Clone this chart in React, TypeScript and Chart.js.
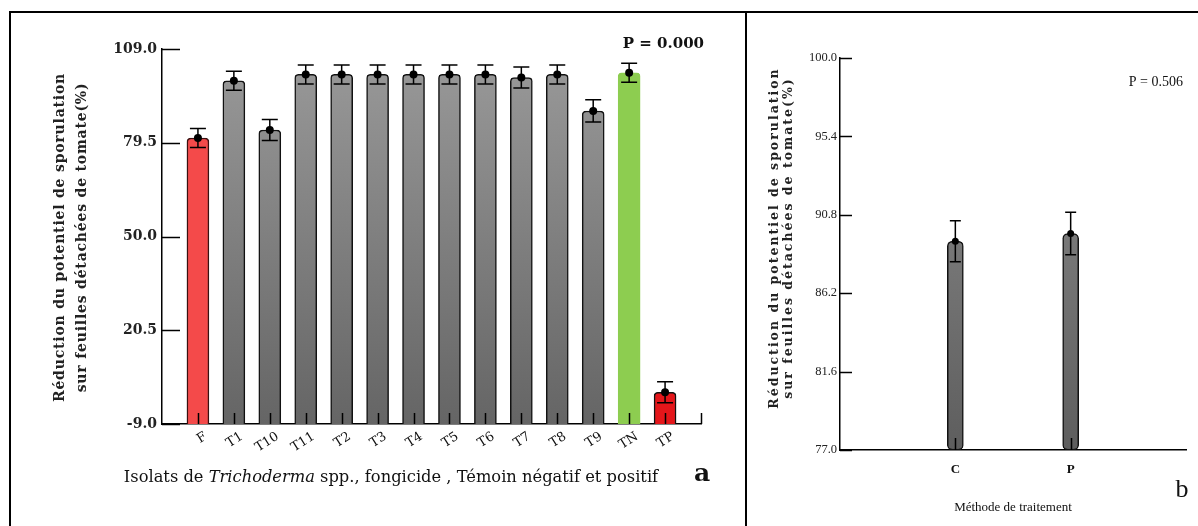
import React, { useEffect, useRef } from 'react';
import { Chart, registerables } from 'chart.js';
Chart.register(...registerables);

// ---------- data: panel a ----------
const isolates = ['F', 'T1', 'T10', 'T11', 'T2', 'T3', 'T4', 'T5', 'T6', 'T7', 'T8', 'T9', 'TN', 'TP'];
const reductionA = [81, 99, 83.5, 101, 101, 101, 101, 101, 101, 100, 101, 89.5, 101.5, 1];
const errorA = [3, 3, 3.3, 3, 3, 3, 3, 3, 3, 3.3, 3, 3.5, 3, 3.3];
const yTicksA = [-9.0, 20.5, 50.0, 79.5, 109.0];
const pValueA = 'P = 0.000';

// ---------- data: panel b ----------
const methods = ['C', 'P'];
const reductionB = [89.25, 89.7];
const errorB = [1.2, 1.25];
const yTicksB = [77.0, 81.6, 86.2, 90.8, 95.4, 100.0];
const pValueB = 'P = 0.506';

const yTitle = ['Réduction du potentiel de sporulation', 'sur feuilles détachées de tomate(%)'];
const xTitleA = ['Isolats de ', 'Trichoderma', ' spp., fongicide , Témoin négatif et positif'];
const xTitleB = 'Méthode de traitement';

// ---------- styles ----------
const barKindA = ['red', 'gray', 'gray', 'gray', 'gray', 'gray', 'gray', 'gray', 'gray', 'gray', 'gray', 'gray', 'green', 'tp'];
const SERIF = '"DejaVu Serif", serif';
const LSERIF = '"Liberation Serif", serif';

function grayGradient(chart: any, top: string, bottom: string) {
  const { ctx, chartArea } = chart;
  if (!chartArea) return top;
  const g = ctx.createLinearGradient(0, chartArea.top, 0, chartArea.bottom);
  g.addColorStop(0, top);
  g.addColorStop(1, bottom);
  return g;
}

function padLabels(arr: string[]) {
  return ['', ...arr, ''];
}
function padData(arr: number[]) {
  return [null, ...arr, null];
}

function decorPlugin(o: any) {
  return {
    id: 'decor' + o.name,
    afterDatasetsDraw(chart: any) {
      const { ctx, chartArea, scales } = chart;
      const x = scales.x;
      const y = scales.y;
      ctx.save();
      ctx.strokeStyle = '#000';
      ctx.lineWidth = 1.5;
      // inward x ticks
      o.xTickIdx.forEach((i: number) => {
        const px = Math.round(x.getPixelForValue(i)) + 0.5;
        ctx.beginPath();
        ctx.moveTo(px, chartArea.bottom);
        ctx.lineTo(px, chartArea.bottom - o.xTickLen);
        ctx.stroke();
      });
      // inward y ticks
      y.ticks.forEach((t: any) => {
        const py = Math.round(y.getPixelForValue(t.value)) + 0.5;
        ctx.beginPath();
        ctx.moveTo(chartArea.left, py);
        ctx.lineTo(chartArea.left + o.yTickLen, py);
        ctx.stroke();
      });
      // error bars
      o.values.forEach((v: number, i: number) => {
        const px = x.getPixelForValue(i + 1);
        const t = y.getPixelForValue(v + o.errors[i]);
        const b = y.getPixelForValue(v - o.errors[i]);
        ctx.beginPath();
        ctx.moveTo(px, t);
        ctx.lineTo(px, b);
        ctx.moveTo(px - o.cap / 2, t);
        ctx.lineTo(px + o.cap / 2, t);
        ctx.moveTo(px - o.cap / 2, b);
        ctx.lineTo(px + o.cap / 2, b);
        ctx.stroke();
      });
      // P value
      ctx.fillStyle = '#111';
      ctx.font = o.pFont;
      ctx.textAlign = 'right';
      ctx.textBaseline = 'middle';
      ctx.fillText(o.pText, chartArea.right + o.pDx, chartArea.top + o.pDy);
      // panel letter
      ctx.font = o.letterFont;
      ctx.textAlign = 'center';
      ctx.fillText(o.letter, chartArea.right + o.letterDx, chartArea.bottom + o.letterDy);
      // rotated y title (two lines, letter-spaced)
      ctx.save();
      ctx.fillStyle = '#222';
      ctx.font = o.yTitleFont;
      (ctx as any).letterSpacing = o.yTitleSpacing;
      const cy = (chartArea.top + chartArea.bottom) / 2 + o.yTitleDy;
      o.yTitleLines.forEach((line: string, i: number) => {
        ctx.save();
        ctx.translate(o.yTitleX + i * o.yTitleLh, cy);
        ctx.rotate(-Math.PI / 2);
        ctx.textAlign = 'center';
        ctx.textBaseline = 'middle';
        ctx.fillText(line, 0, 0);
        ctx.restore();
      });
      ctx.restore();
      // mixed x title
      if (o.xTitleParts) {
        const fonts = [o.xTitleFont, 'italic ' + o.xTitleFont, o.xTitleFont];
        const widths = o.xTitleParts.map((s: string, i: number) => {
          ctx.font = fonts[i];
          return ctx.measureText(s).width;
        });
        const total = widths.reduce((a: number, b: number) => a + b, 0);
        let cx = chartArea.left + o.xTitleCenterDx - total / 2;
        ctx.textAlign = 'left';
        ctx.fillStyle = '#111';
        o.xTitleParts.forEach((s: string, i: number) => {
          ctx.font = fonts[i];
          ctx.fillText(s, cx, chartArea.bottom + o.xTitleDy);
          cx += widths[i];
        });
      }
      ctx.restore();
    },
  };
}

function configA(): any {
  return {
    type: 'bar',
    data: {
      labels: padLabels(isolates),
      datasets: [
        {
          type: 'line',
          data: padData(reductionA),
          showLine: false,
          pointRadius: 4,
          pointBackgroundColor: '#000',
          pointBorderWidth: 0,
          order: 1,
        },
        {
          type: 'bar',
          data: padData(reductionA),
          base: yTicksA[0],
          barThickness: 22,
          borderRadius: 4,
          borderSkipped: 'start',
          backgroundColor: (c: any) => {
            const k = barKindA[c.dataIndex - 1];
            if (k === 'red') return '#f44a4a';
            if (k === 'green') return '#8dcd50';
            if (k === 'tp') return '#e4161a';
            return grayGradient(c.chart, '#9a9a9a', '#656565');
          },
          borderColor: (c: any) => {
            const k = barKindA[c.dataIndex - 1];
            if (k === 'green') return '#8dcd50';
            if (k === 'red') return '#3a1010';
            return '#111';
          },
          borderWidth: 1.5,
          order: 2,
        },
      ],
    },
    options: {
      responsive: false,
      animation: false,
      events: [],
      layout: { padding: { left: 0, right: 43, top: 36, bottom: 0 } },
      plugins: { legend: { display: false }, tooltip: { enabled: false } },
      scales: {
        x: {
          type: 'category',
          offset: false,
          grid: { display: false, drawTicks: false },
          border: { display: true, color: '#000', width: 1.5 },
          afterFit: (s: any) => { s.height = 102; },
          ticks: {
            autoSkip: false,
            minRotation: 32,
            maxRotation: 32,
            padding: 5,
            labelOffset: 8,
            color: '#111',
            font: { family: SERIF, size: 13 },
          },
        },
        y: {
          min: yTicksA[0],
          max: yTicksA[yTicksA.length - 1],
          afterBuildTicks: (s: any) => { s.ticks = yTicksA.map((v) => ({ value: v })); },
          afterFit: (s: any) => { s.width = 151; },
          grid: { display: false, drawTicks: false },
          border: { display: true, color: '#000', width: 1.5 },
          ticks: {
            padding: 5,
            color: '#222',
            font: { family: SERIF, size: 14, weight: 'bold' },
            callback: (v: any) => Number(v).toFixed(1),
          },
        },
      },
    },
    plugins: [
      decorPlugin({
        name: 'A',
        values: reductionA,
        errors: errorA,
        cap: 16,
        xTickIdx: isolates.map((_, i) => i + 1).concat([isolates.length + 1]),
        xTickLen: 11,
        yTickLen: 18,
        pText: pValueA,
        pFont: 'bold 15px ' + SERIF,
        pDx: 3,
        pDy: -5,
        letter: 'a',
        letterFont: 'bold 25px ' + SERIF,
        letterDx: 1,
        letterDy: 50,
        yTitleLines: yTitle,
        yTitleFont: 'bold 14px ' + SERIF,
        yTitleSpacing: '0.8px',
        yTitleX: 49,
        yTitleLh: 22,
        yTitleDy: 1,
        xTitleParts: xTitleA,
        xTitleFont: '16.3px ' + SERIF,
        xTitleCenterDx: 229,
        xTitleDy: 54,
      }),
    ],
  };
}

function configB(): any {
  return {
    type: 'bar',
    data: {
      labels: padLabels(methods),
      datasets: [
        {
          type: 'line',
          data: padData(reductionB),
          showLine: false,
          pointRadius: 3.5,
          pointBackgroundColor: '#000',
          pointBorderWidth: 0,
          order: 1,
        },
        {
          type: 'bar',
          data: padData(reductionB),
          base: yTicksB[0],
          barThickness: 16,
          borderRadius: 5,
          borderSkipped: false,
          backgroundColor: (c: any) => grayGradient(c.chart, '#8e8e8e', '#5e5e5e'),
          borderColor: '#111',
          borderWidth: 1.5,
          order: 2,
        },
      ],
    },
    options: {
      responsive: false,
      animation: false,
      events: [],
      layout: { padding: { left: 0, right: 8, top: 45, bottom: 0 } },
      plugins: { legend: { display: false }, tooltip: { enabled: false } },
      scales: {
        x: {
          type: 'category',
          offset: false,
          grid: { display: false, drawTicks: false },
          border: { display: true, color: '#000', width: 1.5 },
          afterFit: (s: any) => { s.height = 76; },
          ticks: {
            autoSkip: false,
            maxRotation: 0,
            padding: 12,
            color: '#111',
            font: { family: LSERIF, size: 13, weight: 'bold' },
          },
          title: {
            display: true,
            text: xTitleB,
            color: '#111',
            padding: { top: 0, bottom: 11 },
            font: { family: LSERIF, size: 13 },
          },
        },
        y: {
          min: yTicksB[0],
          max: yTicksB[yTicksB.length - 1],
          afterBuildTicks: (s: any) => { s.ticks = yTicksB.map((v) => ({ value: v })); },
          afterFit: (s: any) => { s.width = 93; },
          grid: { display: false, drawTicks: false },
          border: { display: true, color: '#000', width: 1.5 },
          ticks: {
            padding: 3,
            color: '#222',
            font: { family: LSERIF, size: 12.5 },
            callback: (v: any) => Number(v).toFixed(1),
          },
        },
      },
    },
    plugins: [
      decorPlugin({
        name: 'B',
        values: reductionB,
        errors: errorB,
        cap: 11,
        xTickIdx: methods.map((_, i) => i + 1),
        xTickLen: 12,
        yTickLen: 12,
        pText: pValueB,
        pFont: '14px ' + LSERIF,
        pDx: -3,
        pDy: 24,
        letter: 'b',
        letterFont: '26px ' + LSERIF,
        letterDx: -4,
        letterDy: 40,
        yTitleLines: yTitle,
        yTitleFont: 'bold 12.5px ' + SERIF,
        yTitleSpacing: '2px',
        yTitleX: 28,
        yTitleLh: 14,
        yTitleDy: -16,
        xTitleParts: null,
      }),
    ],
  };
}

function ChartCanvas({ make, left, top, width, height }: any) {
  const ref = useRef<HTMLCanvasElement>(null);
  useEffect(() => {
    const chart = new Chart(ref.current as HTMLCanvasElement, make());
    return () => chart.destroy();
  }, []);
  return (
    <canvas
      ref={ref}
      width={width}
      height={height}
      style={{ position: 'absolute', left, top, width, height }}
    />
  );
}

export default function App() {
  return (
    <div style={{ position: 'absolute', left: 0, top: 0, width: 1198, height: 526, background: '#fff', overflow: 'hidden' }}>
      <div style={{ position: 'absolute', left: 9, top: 11, width: 734, height: 520, borderLeft: '2px solid #000', borderTop: '2px solid #000', borderRight: '2px solid #000' }} />
      <div style={{ position: 'absolute', left: 747, top: 11, width: 451, height: 520, borderTop: '2px solid #000' }} />
      <ChartCanvas make={configA} left={11} top={13} width={733} height={513} />
      <ChartCanvas make={configB} left={747} top={13} width={451} height={513} />
    </div>
  );
}
